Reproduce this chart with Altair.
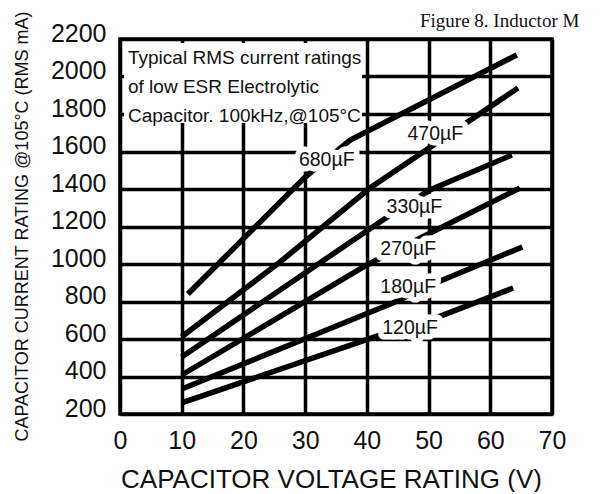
import altair as alt
import pandas as pd

# ---- data ----
caps = ["680µF", "470µF", "330µF", "270µF", "180µF", "120µF"]

v_680 = [11.0, 30.0, 37.3, 64.3]
i_680 = [840, 1464, 1661, 2115]
v_470 = [10.0, 25.9, 40.5, 64.5]
i_470 = [612, 1010, 1405, 1939]
v_330 = [10.0, 42.6, 50.2, 63.5]
i_330 = [504, 1235, 1395, 1581]
v_270 = [10.0, 40.0, 50.6, 64.8]
i_270 = [408, 995, 1171, 1405]
v_180 = [10.0, 44.2, 51.5, 65.2]
i_180 = [333, 792, 904, 1091]
v_120 = [10.0, 42.1, 51.5, 63.7]
i_120 = [259, 621, 717, 872]

label_v = [33.5, 51.1, 47.7, 46.7, 46.7, 47.0]
label_i = [1555, 1693, 1304, 1080, 877, 659]

x_ticks = [0, 10, 20, 30, 40, 50, 60, 70]
y_ticks = [200, 400, 600, 800, 1000, 1200, 1400, 1600, 1800, 2000, 2200]

note_text = "Typical RMS current ratings\nof low ESR Electrolytic\nCapacitor. 100kHz,@105°C"
x_title = "CAPACITOR VOLTAGE RATING (V)"
y_title = "CAPACITOR CURRENT RATING @105°C (RMS mA)"
page_text = "Figure 8. Inductor M"

series_v = [v_680, v_470, v_330, v_270, v_180, v_120]
series_i = [i_680, i_470, i_330, i_270, i_180, i_120]

rows = []
for name, vs, cs in zip(caps, series_v, series_i):
    for v, c in zip(vs, cs):
        rows.append({"cap": name, "V": v, "I": c})
lines_df = pd.DataFrame(rows)
labels_df = pd.DataFrame({"cap": caps, "V": label_v, "I": label_i})
one = pd.DataFrame({"k": [0]})

SANS = "Liberation Sans, Arial"

x_scale = alt.Scale(domain=[0, 70], nice=False, zero=False)
y_scale = alt.Scale(domain=[200, 2200], nice=False, zero=False)

x_axis = alt.Axis(
    values=x_ticks, format="d", grid=True, gridColor="black", gridWidth=3.5,
    gridOpacity=1, domain=False, ticks=False, tickSize=0, labelFont=SANS,
    labelFontSize=25, labelColor="#111111", labelPadding=14, labelFlush=False,
    labelOverlap=False,
    title=x_title, titleFont=SANS, titleFontSize=26, titleFontWeight="normal",
    titleColor="#111111", titleX=211, titleY=73, titleAlign="center",
    titleBaseline="alphabetic",
)
y_axis = alt.Axis(
    values=y_ticks, format="d", grid=True, gridColor="black", gridWidth=3.5,
    gridOpacity=1, domain=False, ticks=False, tickSize=0, labelFont=SANS,
    labelFontSize=25, labelColor="#111111", labelPadding=14, labelFlush=False,
    labelOverlap=False, labelSeparation=0, labelOffset=-6,
    title=y_title, titleFont=SANS, titleFontSize=18, titleFontWeight="normal",
    titleColor="#111111", titleX=-98, titleY=187, titleAngle=270,
    titleAlign="center", titleBaseline="middle",
)

X = alt.X("V:Q", scale=x_scale, axis=x_axis)
Y = alt.Y("I:Q", scale=y_scale, axis=y_axis)

lines = alt.Chart(lines_df).mark_line(
    color="black", strokeWidth=5.5, strokeCap="butt", strokeJoin="miter"
).encode(x=X, y=Y, detail="cap:N", order=alt.Order("V:Q"))

note_box = alt.Chart(one).mark_rect(fill="white").encode(
    x=alt.value(4), x2=alt.value(242), y=alt.value(4), y2=alt.value(84)
)

halo = alt.Chart(labels_df).mark_text(
    font=SANS, fontSize=19.5, fill="white", stroke="white", strokeWidth=11,
    strokeJoin="round", align="center", baseline="middle",
).encode(x=X, y=Y, text="cap:N")
label_text = alt.Chart(labels_df).mark_text(
    font=SANS, fontSize=19.5, color="#111111", align="center", baseline="middle",
).encode(x=X, y=Y, text="cap:N")

note = alt.Chart(one).mark_text(
    font=SANS, fontSize=19, color="#111111", align="left",
    baseline="alphabetic", lineBreak="\n", lineHeight=29,
).encode(x=alt.value(8), y=alt.value(25), text=alt.value(note_text))

page = alt.Chart(one).mark_text(
    font="Liberation Serif, Times New Roman", fontSize=19, color="#111111",
    align="left", baseline="alphabetic",
).encode(x=alt.value(300), y=alt.value(-12), text=alt.value(page_text))

chart = alt.layer(lines, note_box, halo, label_text, note, page).properties(
    width=432, height=375,
    autosize=alt.AutoSizeParams(type="none"),
    padding={"left": 112, "top": 31, "right": 46, "bottom": 78},
).configure_view(stroke="black", strokeWidth=3.5).configure_axis(labelOverlap=False)

chart.save("out.html", embed_options={"renderer": "svg", "actions": False})
